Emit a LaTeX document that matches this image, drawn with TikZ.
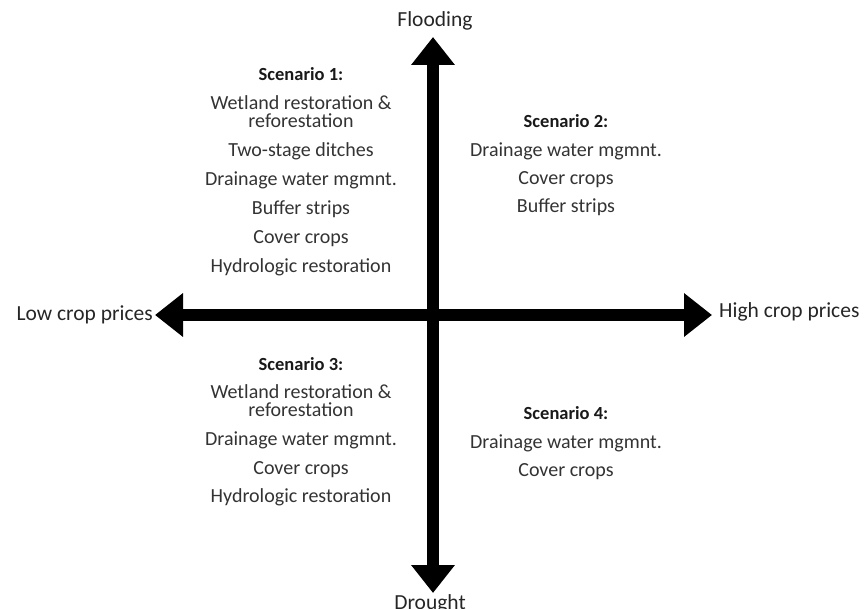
\documentclass[tikz,border=0pt]{standalone}
\usepackage{fontspec}
\setmainfont{Carlito}
\usetikzlibrary{arrows.meta,positioning}

\begin{document}
\begin{tikzpicture}[x=1pt,y=-1pt,
    axislabel/.style={font=\fontsize{21.5}{24}\selectfont, text=black!85, inner sep=0pt},
    scen/.style={align=center, font=\fontsize{20}{18}\selectfont, text=black!80, inner sep=0pt, anchor=base},
    axis/.style={line width=12pt, {Triangle[length=28pt,width=42pt]}-{Triangle[length=28pt,width=42pt]}}]
    \useasboundingbox (0,0) rectangle (867,609);

    % axis end points
    \coordinate (top) at (433,37);
    \coordinate (bottom) at (433,593);
    \coordinate (left) at (155,315);
    \coordinate (right) at (712,315);

    \node [axislabel, anchor=base] (flood) at (435,27) {Flooding};
    \node [axislabel, anchor=base] (drought) at (430,609) {Drought};
    \node [axislabel, anchor=base east] (low) at (153,321) {Low crop prices};
    \node [axislabel, anchor=base west] (high) at (719,318) {High crop prices};

    \draw [axis] (top) -- (bottom);
    \draw [axis] (left) -- (right);

    % base = baseline of the last line
    \node [scen] (s1) at (301,273) {{\bfseries\fontsize{18.5}{18}\selectfont\color{black!90} Scenario 1:}\\[11pt]
        Wetland restoration \&\\ reforestation\\[11pt]
        Two-stage ditches\\[11pt]
        Drainage water mgmnt.\\[11pt]
        Buffer strips\\[11pt]
        Cover crops\\[11pt]
        Hydrologic restoration};
    \node [scen] (s2) at (566,213) {{\bfseries\fontsize{18.5}{18}\selectfont\color{black!90} Scenario 2:}\\[11pt]
        Drainage water mgmnt.\\[10pt]
        Cover crops\\[10pt]
        Buffer strips};
    \node [scen] (s3) at (301,502) {{\bfseries\fontsize{18.5}{18}\selectfont\color{black!90} Scenario 3:}\\[10pt]
        Wetland restoration \&\\ reforestation\\[11pt]
        Drainage water mgmnt.\\[11pt]
        Cover crops\\[10pt]
        Hydrologic restoration};
    \node [scen] (s4) at (566,476) {{\bfseries\fontsize{18.5}{18}\selectfont\color{black!90} Scenario 4:}\\[11pt]
        Drainage water mgmnt.\\[10pt]
        Cover crops};
\end{tikzpicture}
\end{document}
